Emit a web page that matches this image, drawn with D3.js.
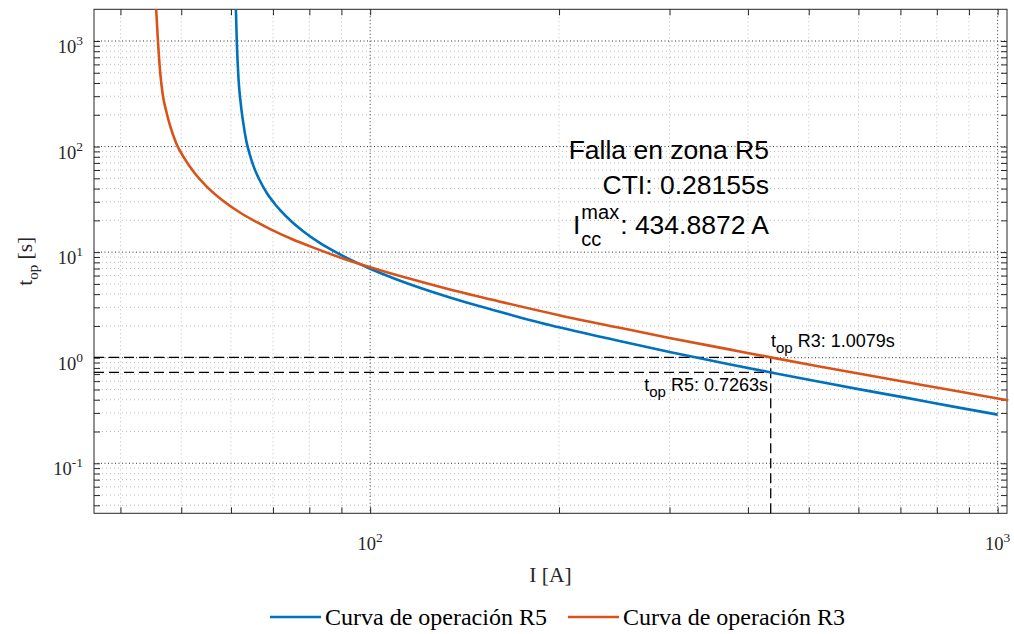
<!DOCTYPE html>
<html><head><meta charset="utf-8">
<script src="https://cdn.jsdelivr.net/npm/d3@7"></script>
<style>body{margin:0;background:#fff}</style>
</head><body>
<svg id="c" width="1014" height="634"></svg>
<script>
// ---- data ----
const blueI = [61.1, 61.3, 61.7, 62.2, 62.8, 63.5, 64.3, 65.2, 66.5, 68.4, 70.5, 72, 75, 78.2, 83, 88, 93, 100, 110, 120, 134, 150, 170, 200, 240, 300, 375, 434.8872, 520, 600, 720, 850, 1000];
const blueT = [2000, 1000, 430, 255, 165, 112, 84, 65, 49.5, 36.5, 28.6, 24.7, 19.4, 15.8, 12.3, 10.05, 8.48, 6.96, 5.54, 4.60, 3.72, 3.05, 2.49, 1.94, 1.52, 1.135, 0.864, 0.7263, 0.591, 0.504, 0.414, 0.344, 0.289];
const orangeI = [45.58, 45.9, 46.3, 46.7, 47.3, 48, 49.1, 50.5, 52.5, 54.9, 58, 62.1, 66, 69.3, 75, 82, 90, 100, 115, 134, 160, 200, 250, 300, 375, 434.8872, 520, 600, 750, 900, 1000, 1040];
const orangeT = [2100, 1000, 491, 315, 218, 157, 107, 78.5, 56.1, 41.8, 31.4, 23.6, 19.2, 16.5, 13.3, 10.8, 8.82, 7.20, 5.65, 4.43, 3.43, 2.53, 1.92, 1.54, 1.193, 1.0079, 0.827, 0.708, 0.558, 0.460, 0.411, 0.395];
const seriesNames = ["Curva de operación R5", "Curva de operación R3"];
const Icc = 434.8872, tR5 = 0.7263, tR3 = 1.0079, CTI = 0.28155;
const xMajor = [100, 1000], xMajorExp = ["2", "3"];
const yMajor = [0.1, 1, 10, 100, 1000], yMajorExp = ["-1", "0", "1", "2", "3"];
const xDomain = [36.3, 1035], yDomain = [0.0336, 1996];

// ---- layout ----
const L = 94, R = 1007, T = 9.3, B = 513.3;
const svg = d3.select("#c");
svg.append("rect").attr("width", 1014).attr("height", 634).attr("fill", "#fff");
const x = d3.scaleLog().domain(xDomain).range([L, R]);
const y = d3.scaleLog().domain(yDomain).range([B, T]);

function minors(dom) {
  const out = [];
  for (let e = Math.floor(Math.log10(dom[0])); e <= Math.ceil(Math.log10(dom[1])); e++) {
    for (let m = 2; m <= 9; m++) { const v = m * Math.pow(10, e); if (v >= dom[0] && v <= dom[1]) out.push(v); }
  }
  return out;
}
const xMin = minors(xDomain), yMin = minors(yDomain);

const g = svg.append("g");
g.selectAll(".xmg").data(xMin).join("line").attr("x1", d => x(d)).attr("x2", d => x(d)).attr("y1", T).attr("y2", B)
  .attr("stroke", "#bdbdbd").attr("stroke-width", 1).attr("stroke-dasharray", "1,3");
g.selectAll(".ymg").data(yMin).join("line").attr("y1", d => y(d)).attr("y2", d => y(d)).attr("x1", L).attr("x2", R)
  .attr("stroke", "#bdbdbd").attr("stroke-width", 1).attr("stroke-dasharray", "1,3");
g.selectAll(".xMg").data(xMajor).join("line").attr("x1", d => x(d)).attr("x2", d => x(d)).attr("y1", T).attr("y2", B)
  .attr("stroke", "#333").attr("stroke-width", 1).attr("stroke-dasharray", "1,2.5");
g.selectAll(".yMg").data(yMajor).join("line").attr("y1", d => y(d)).attr("y2", d => y(d)).attr("x1", L).attr("x2", R)
  .attr("stroke", "#333").attr("stroke-width", 1).attr("stroke-dasharray", "1,2.5");

const tk = 6;
const axB = d3.axisBottom(x).tickValues(xMajor.concat(xMin)).tickSize(-tk).tickFormat("");
const axT = d3.axisTop(x).tickValues(xMajor.concat(xMin)).tickSize(-tk).tickFormat("");
const axLft = d3.axisLeft(y).tickValues(yMajor.concat(yMin)).tickSize(-tk).tickFormat("");
const axRt = d3.axisRight(y).tickValues(yMajor.concat(yMin)).tickSize(-tk).tickFormat("");
function styleAxis(sel) { sel.selectAll("path,line").attr("stroke", "#262626").attr("stroke-width", 1); sel.select(".domain").attr("d", null); }
svg.append("g").attr("transform", `translate(0,${B})`).call(axB).call(styleAxis);
svg.append("g").attr("transform", `translate(0,${T})`).call(axT).call(styleAxis);
svg.append("g").attr("transform", `translate(${L},0)`).call(axLft).call(styleAxis);
svg.append("g").attr("transform", `translate(${R},0)`).call(axRt).call(styleAxis);
svg.append("rect").attr("x", L).attr("y", T).attr("width", R - L).attr("height", B - T)
  .attr("fill", "none").attr("stroke", "#262626").attr("stroke-width", 1);

const serif = "'Liberation Serif','Times New Roman',serif";
const xl = svg.append("g").attr("font-family", serif).attr("fill", "#262626");
xMajor.forEach((v, i) => {
  const t = xl.append("text").attr("x", x(v)).attr("y", B + 37).attr("text-anchor", "middle").attr("font-size", 18.5);
  t.append("tspan").text("10");
  t.append("tspan").attr("dy", -8).attr("font-size", 13.5).text(xMajorExp[i]);
});
yMajor.forEach((v, i) => {
  const t = xl.append("text").attr("x", L - 11).attr("y", y(v) + 12).attr("text-anchor", "end").attr("font-size", 18.5);
  t.append("tspan").text("10");
  t.append("tspan").attr("dy", -8).attr("font-size", 13.5).text(yMajorExp[i]);
});
xl.append("text").attr("x", (L + R) / 2).attr("y", 582).attr("text-anchor", "middle").attr("font-size", 21.5).text("I [A]");
const yl = xl.append("text").attr("transform", `translate(32,${(T + B) / 2}) rotate(-90)`).attr("text-anchor", "middle").attr("font-size", 21.5);
yl.append("tspan").text("t");
yl.append("tspan").attr("dy", 6).attr("font-size", 15).text("op");
yl.append("tspan").attr("dy", -6).text(" [s]");

svg.append("clipPath").attr("id", "clip").append("rect").attr("x", L).attr("y", T).attr("width", 1014 - L).attr("height", B - T);

const dl = svg.append("g").attr("stroke", "#000").attr("stroke-width", 1.3).attr("stroke-dasharray", "10,5").attr("fill", "none");
dl.append("line").attr("x1", x(xDomain[0])).attr("x2", x(Icc)).attr("y1", y(tR3)).attr("y2", y(tR3));
dl.append("line").attr("x1", x(xDomain[0])).attr("x2", x(Icc)).attr("y1", y(tR5)).attr("y2", y(tR5));
dl.append("line").attr("x1", x(Icc)).attr("x2", x(Icc)).attr("y1", y(yDomain[0])).attr("y2", y(tR3));

const line = d3.line().x(d => x(d[0])).y(d => y(d[1])).curve(d3.curveMonotoneX);
const cg = svg.append("g").attr("clip-path", "url(#clip)");
const colors = ["#0072BD", "#D95319"];
cg.append("path").attr("d", line(blueI.map((v, i) => [v, blueT[i]]))).attr("fill", "none").attr("stroke", colors[0]).attr("stroke-width", 2.6);
cg.append("path").attr("d", line(orangeI.map((v, i) => [v, orangeT[i]]))).attr("fill", "none").attr("stroke", colors[1]).attr("stroke-width", 2.6);

const sans = "'Liberation Sans',Arial,Helvetica,sans-serif";
const an = svg.append("g").attr("font-family", sans).attr("fill", "#000");
const fs = 26.5;
an.append("text").attr("x", 769).attr("y", 159).attr("text-anchor", "end").attr("font-size", fs).text("Falla en zona R5");
an.append("text").attr("x", 769).attr("y", 194).attr("text-anchor", "end").attr("font-size", fs).text("CTI: " + CTI + "s");
const main = an.append("text").attr("x", 769).attr("y", 234).attr("text-anchor", "end").attr("font-size", fs).text(": " + Icc + " A");
const mw = main.node().getComputedTextLength();
const x0 = 769 - mw;
const sup = an.append("text").attr("x", x0 - 1).attr("y", 219).attr("text-anchor", "end").attr("font-size", 20).text("max");
const sw = sup.node().getComputedTextLength();
an.append("text").attr("x", x0 - 1 - sw).attr("y", 246).attr("text-anchor", "start").attr("font-size", 20).text("cc");
an.append("text").attr("x", x0 - 2 - sw).attr("y", 234).attr("text-anchor", "end").attr("font-size", fs).text("I");

const a3 = an.append("text").attr("x", 771).attr("y", 347).attr("font-size", 18);
a3.append("tspan").text("t");
a3.append("tspan").attr("dy", 6).attr("font-size", 15).text("op");
a3.append("tspan").attr("dy", -6).text(" R3: " + tR3 + "s");
const a5 = an.append("text").attr("x", 768).attr("y", 391).attr("text-anchor", "end").attr("font-size", 18);
a5.append("tspan").text("t");
a5.append("tspan").attr("dy", 6).attr("font-size", 15).text("op");
a5.append("tspan").attr("dy", -6).text(" R5: " + tR5 + "s");

// legend
const lg = svg.append("g").attr("font-family", serif).attr("font-size", 24).attr("fill", "#000");
const legX = [270, 568];
seriesNames.forEach((n, i) => {
  lg.append("line").attr("x1", legX[i]).attr("x2", legX[i] + 51).attr("y1", 617).attr("y2", 617).attr("stroke", colors[i]).attr("stroke-width", 2.6);
  lg.append("text").attr("x", legX[i] + 55).attr("y", 625).text(n);
});
</script>
</body></html>
